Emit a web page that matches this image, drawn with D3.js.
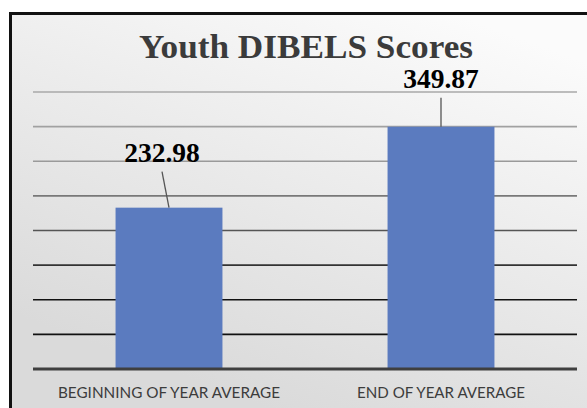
<!DOCTYPE html>
<html><head><meta charset="utf-8">
<script src="https://cdn.jsdelivr.net/npm/d3@7"></script>
<style>html,body{margin:0;padding:0;background:#fff;overflow:hidden;width:587px;height:408px;}svg{display:block;overflow:hidden;}</style>
</head><body>
<svg id="chart" width="587" height="408" viewBox="0 0 587 408"></svg>
<script>
const categories = ["BEGINNING OF YEAR AVERAGE", "END OF YEAR AVERAGE"];
const scores = [232.98, 349.87];
const labels = ["232.98", "349.87"];
const gridTicks = [0, 50, 100, 150, 200, 250, 300, 350, 400];
const title = "Youth DIBELS Scores";

(function() {
const svg = d3.select("#chart");
const W = 587, H = 408;
const defs = svg.append("defs");
const bg = defs.append("linearGradient").attr("id","bg").attr("gradientUnits","userSpaceOnUse")
  .attr("x1", 450).attr("y1", 12).attr("x2", 300).attr("y2", 420);
bg.append("stop").attr("offset","0").attr("stop-color","#fbfbfb");
bg.append("stop").attr("offset","0.45").attr("stop-color","#ececec");
bg.append("stop").attr("offset","1").attr("stop-color","#dadada");

// frame background + top/left border
svg.append("rect").attr("x",10).attr("y",12).attr("width",W + 40).attr("height",H + 20)
  .attr("fill","url(#bg)");
svg.append("path").attr("d", `M10.5,${H + 10} V13.5 H${W + 20}`)
  .attr("fill","none").attr("stroke","#111").attr("stroke-width",3);

const pLeft = 33, pRight = 577, pTop = 92, pBottom = 369;
const x = d3.scaleBand().domain(categories).range([pLeft, pRight]).paddingInner(0.607).paddingOuter(0.3035);
const y = d3.scaleLinear().domain([0, 400]).range([pBottom, pTop]);

const lineColor = d3.scaleLinear().domain([400, 300, 200, 100]).range(["#a8a8a8", "#9a9a9a", "#555", "#111"]).clamp(true);

// gridlines
svg.append("g").selectAll("line").data(gridTicks.filter(d => d > 0)).join("line")
  .attr("x1", pLeft).attr("x2", pRight)
  .attr("y1", d => y(d)).attr("y2", d => y(d))
  .attr("stroke", d => lineColor(d)).attr("stroke-width", 1.6);

// bars
svg.append("g").selectAll("rect").data(scores).join("rect")
  .attr("x", (d,i) => x(categories[i]))
  .attr("width", x.bandwidth())
  .attr("y", d => y(d))
  .attr("height", d => y(0) - y(d))
  .attr("fill", "#5b7bbf");

// baseline
svg.append("line").attr("x1", pLeft).attr("x2", pRight).attr("y1", y(0)).attr("y2", y(0))
  .attr("stroke", "#3f3f3f").attr("stroke-width", 3);

// category axis labels
const labelWidths = [222, 168];
const xAxis = d3.axisBottom(x).tickSize(0).tickPadding(0);
const ax = svg.append("g").attr("transform", `translate(0,${y(0)})`).call(xAxis);
ax.select(".domain").remove();
ax.selectAll(".tick line").remove();
ax.selectAll("text").attr("dy", null).attr("y", 29)
  .attr("font-family", "Lato, 'Open Sans', sans-serif").attr("font-size", 16)
  .attr("textLength", (d, i) => labelWidths[i]).attr("lengthAdjust", "spacingAndGlyphs")
  .attr("fill", "#3c3c3c");

// data labels with leader lines
const labelPos = [{dx: -7, dy: -46}, {dx: 0, dy: -39}];
const lg = svg.append("g");
scores.forEach((v, i) => {
  const cx = x(categories[i]) + x.bandwidth() / 2;
  const p = labelPos[i];
  const ly = y(v) + p.dy;
  lg.append("text").attr("x", cx + p.dx).attr("y", ly)
    .attr("text-anchor", "middle")
    .attr("font-family", "'Liberation Serif', 'Times New Roman', serif")
    .attr("font-weight", "bold").attr("font-size", 27.5)
    .attr("fill", "#000").text(labels[i]);
  lg.append("line")
    .attr("x1", cx + p.dx).attr("y1", ly + 10)
    .attr("x2", cx).attr("y2", y(v))
    .attr("stroke", "#555").attr("stroke-width", 1.3);
});

// title
svg.append("text").attr("x", 306).attr("y", 58).attr("text-anchor", "middle")
  .attr("font-family", "'Liberation Serif', 'Times New Roman', serif")
  .attr("font-weight", "bold").attr("font-size", 33)
  .attr("textLength", 334).attr("lengthAdjust", "spacingAndGlyphs")
  .attr("fill", "#3b3b3b").text(title);
})();
</script>
</body></html>
